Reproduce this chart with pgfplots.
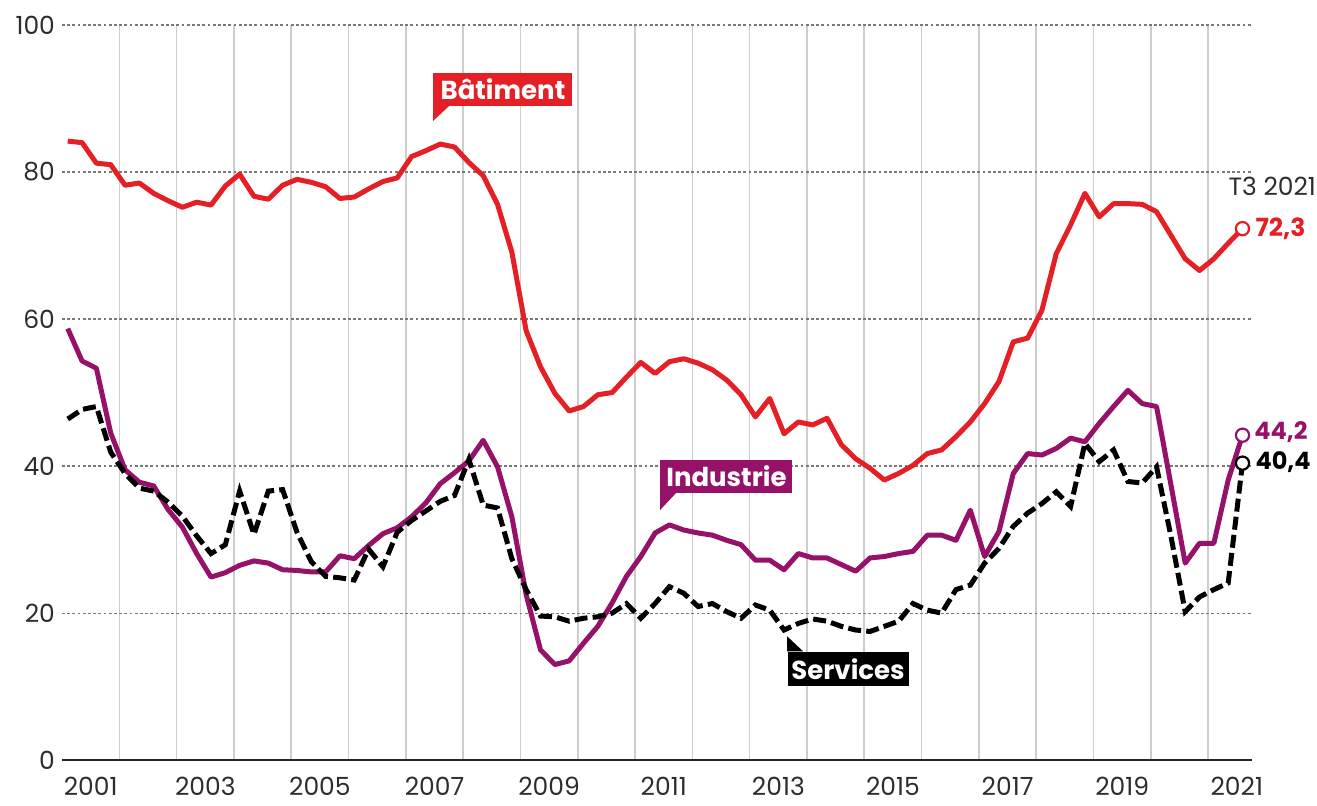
\documentclass[border=0pt]{standalone}
\usepackage{fontspec}
\setmainfont{Poppins}
\usepackage{pgfplots}
\pgfplotsset{compat=1.18}
\usepackage{pgfplotstable}

\definecolor{batred}{RGB}{228,32,38}
\definecolor{indpurple}{RGB}{150,18,104}
\definecolor{gridgray}{RGB}{205,205,205}
\definecolor{dotgray}{RGB}{120,120,120}
\definecolor{ticktext}{RGB}{45,45,45}

% x = year - 2000 (quarterly points)
\pgfplotstableread{
x bat ind ser
1.10 84.2 58.7 46.4
1.35 84.0 54.3 47.7
1.60 81.2 53.3 48.1
1.85 81.0 44.5 41.9
2.10 78.2 39.5 39.0
2.35 78.5 37.8 37.0
2.60 77.1 37.3 36.6
2.85 76.1 34.1 35.1
3.10 75.2 31.7 33.2
3.35 75.9 28.1 30.5
3.60 75.5 24.9 28.1
3.85 78.1 25.5 29.3
4.10 79.7 26.5 36.6
4.35 76.7 27.1 30.7
4.60 76.3 26.8 36.6
4.85 78.2 25.9 36.8
5.10 79.0 25.8 31.0
5.35 78.6 25.6 27.0
5.60 78.0 25.6 25.0
5.85 76.4 27.8 24.8
6.10 76.6 27.4 24.5
6.35 77.7 29.2 28.7
6.60 78.7 30.8 26.3
6.85 79.2 31.6 31.0
7.10 82.1 33.1 32.6
7.35 82.9 35.0 33.9
7.60 83.8 37.6 35.2
7.85 83.4 39.1 36.0
8.10 81.3 40.7 40.9
8.35 79.5 43.5 34.7
8.60 75.6 39.9 34.3
8.85 69.1 33.1 27.4
9.10 58.4 22.5 23.2
9.35 53.5 15.0 19.6
9.60 49.9 13.0 19.5
9.85 47.5 13.5 18.9
10.10 48.1 15.9 19.3
10.35 49.7 18.2 19.5
10.60 50.0 21.4 20.0
10.85 52.1 25.0 21.3
11.10 54.1 27.7 19.3
11.35 52.6 30.9 21.3
11.60 54.2 32.0 23.6
11.85 54.6 31.3 22.7
12.10 54.0 30.9 20.9
12.35 53.1 30.6 21.3
12.60 51.7 29.9 20.2
12.85 49.7 29.3 19.3
13.10 46.7 27.2 21.1
13.35 49.2 27.2 20.4
13.60 44.4 25.9 17.7
13.85 46.0 28.1 18.6
14.10 45.6 27.5 19.2
14.35 46.5 27.5 18.9
14.60 42.9 26.6 18.2
14.85 41.0 25.7 17.7
15.10 39.7 27.5 17.5
15.35 38.1 27.7 18.2
15.60 39.0 28.1 18.9
15.85 40.1 28.4 21.3
16.10 41.7 30.6 20.4
16.35 42.2 30.6 20.0
16.60 44.0 29.9 23.2
16.85 46.0 34.0 23.8
17.10 48.5 27.7 26.8
17.35 51.5 31.1 28.8
17.60 56.9 39.0 31.8
17.85 57.4 41.7 33.6
18.10 61.2 41.5 34.9
18.35 68.9 42.4 36.5
18.60 72.8 43.8 34.5
18.85 77.1 43.3 43.1
19.10 73.9 45.8 40.6
19.35 75.7 48.1 42.2
19.60 75.7 50.3 37.9
19.85 75.6 48.5 37.7
20.10 74.6 48.1 39.9
20.35 71.4 37.5 30.5
20.60 68.2 26.8 20.2
20.85 66.6 29.5 22.2
21.10 68.2 29.5 23.2
21.35 70.3 38.1 24.1
21.60 72.3 44.2 40.4
}\data

\begin{document}
\begin{tikzpicture}
\begin{axis}[
  scale only axis,
  width=595pt, height=367.5pt,
  xmin=1, xmax=21.77, ymin=0, ymax=100,
  axis line style={draw=none},
  clip=false,
  xtick={1.5,3.5,5.5,7.5,9.5,11.5,13.5,15.5,17.5,19.5,21.5},
  xticklabels={2001,2003,2005,2007,2009,2011,2013,2015,2017,2019,2021},
  minor xtick={2,3,4,5,6,7,8,9,10,11,12,13,14,15,16,17,18,19,20,21},
  xminorgrids=true,
  minor grid style={gridgray, line width=0.8pt},
  ytick={0,20,40,60,80,100},
  ymajorgrids=true,
  major grid style={dotgray, line width=0.6pt, dash pattern=on 1.4pt off 1.2pt},
  major tick length=0pt, minor tick length=0pt,
  tick style={draw=none},
  ticklabel style={font=\fontsize{12.5}{14}\selectfont, text=ticktext},
  xticklabel style={inner sep=0pt, text depth=0pt, yshift=-8.5pt},
  /pgf/number format/assume math mode=true,
]
\draw[line width=1.2pt, black!85] (axis cs:1,0) -- (axis cs:21.77,0);

\addplot[indpurple, line width=2.5pt, line join=round] table[x=x,y=ind]{\data};
\addplot[black, line width=2.5pt, dash pattern=on 6.5pt off 2.6pt] table[x=x,y=ser]{\data};
\addplot[batred, line width=2.5pt, line join=round] table[x=x,y=bat]{\data};

\addplot[only marks, mark=*, mark size=3.3pt, mark options={draw=batred, fill=white, line width=1.1pt}] coordinates {(21.60,72.3)};
\addplot[only marks, mark=*, mark size=3.3pt, mark options={draw=indpurple, fill=white, line width=1.1pt}] coordinates {(21.60,44.2)};
\addplot[only marks, mark=*, mark size=3.3pt, mark options={draw=black, fill=white, line width=1.1pt}] coordinates {(21.60,40.4)};

\node[anchor=west, inner sep=0pt, text=ticktext, font=\fontsize{12.5}{14}\selectfont] at (axis cs:21.35,78.0) {T3 2021};
\node[anchor=west, inner sep=0pt, text=batred, font=\bfseries\fontsize{12.5}{14}\selectfont] at (axis cs:21.82,72.3) {72,3};
\node[anchor=west, inner sep=0pt, text=indpurple, font=\bfseries\fontsize{12}{14}\selectfont] at (axis cs:21.80,44.6) {44,2};
\node[anchor=west, inner sep=0pt, text=black, font=\bfseries\fontsize{12}{14}\selectfont] at (axis cs:21.82,40.6) {40,4};

\node[anchor=south west, fill=batred, text=white, inner sep=0pt, minimum width=69.5pt, minimum height=16.5pt, font=\bfseries\fontsize{13}{14}\selectfont] (bt) at (axis cs:7.475,88.98) {Bâtiment};
\fill[batred] (bt.south west) -- ++(0pt,-7.5pt) -- ++(8pt,7.5pt) -- cycle;

\node[anchor=south west, fill=indpurple, text=white, inner sep=0pt, minimum width=66pt, minimum height=16.5pt, font=\bfseries\fontsize{13}{14}\selectfont] (in) at (axis cs:11.436,36.33) {Industrie};
\fill[indpurple] (in.south west) -- ++(0pt,-8.5pt) -- ++(8pt,8.5pt) -- cycle;

\node[anchor=south west, fill=black, text=white, inner sep=0pt, minimum width=60.5pt, minimum height=17pt, font=\bfseries\fontsize{13}{14}\selectfont] (sv) at (axis cs:13.653,10.07) {Services};
\fill[black] (sv.north west) -- ++(0pt,7.5pt) -- ++(8pt,-7.5pt) -- cycle;

\coordinate (BL) at (axis cs:-0.082,-6.12);
\coordinate (TR) at (axis cs:22.90,103.4);
\end{axis}
\pgfresetboundingbox
\useasboundingbox (BL) rectangle (TR);
\end{tikzpicture}
\end{document}
